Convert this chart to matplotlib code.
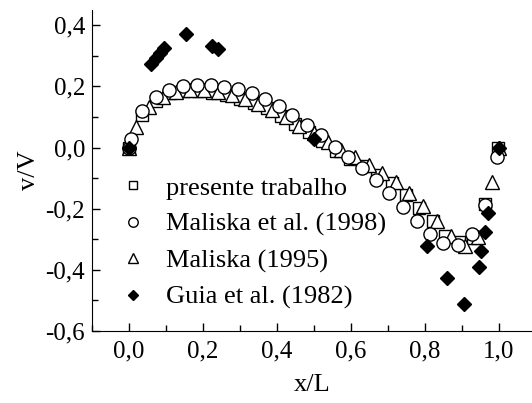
import matplotlib
matplotlib.use("Agg")
import matplotlib.pyplot as plt
from matplotlib.ticker import MultipleLocator, FuncFormatter

plt.rcParams['font.family'] = ['Liberation Serif', 'DejaVu Serif']
plt.rcParams['font.size'] = 19
plt.rcParams['axes.unicode_minus'] = False

# presente trabalho (squares)
sq_x = [0.0, 0.035, 0.073, 0.11, 0.148, 0.186, 0.224, 0.262, 0.3, 0.337, 0.374, 0.411,
        0.448, 0.486, 0.523, 0.56, 0.597, 0.634, 0.672, 0.712, 0.75, 0.785, 0.821, 0.855,
        0.893, 0.93, 0.962, 0.997]
sq_y = [0.0, 0.106, 0.152, 0.178, 0.185, 0.185, 0.18, 0.172, 0.16, 0.146, 0.128, 0.104,
        0.078, 0.05, 0.02, -0.01, -0.036, -0.062, -0.09, -0.117, -0.156, -0.198, -0.241, -0.29,
        -0.31, -0.296, -0.185, 0.0]

# Maliska et al. (1998) (circles)
ci_x = [0.0, 0.005, 0.035, 0.073, 0.108, 0.146, 0.184, 0.222, 0.258, 0.295, 0.332, 0.369,
        0.405, 0.442, 0.481, 0.52, 0.556, 0.591, 0.629, 0.667, 0.702, 0.74, 0.778, 0.813,
        0.848, 0.889, 0.927, 0.962, 0.995]
ci_y = [0.0, 0.028, 0.119, 0.165, 0.19, 0.2, 0.204, 0.206, 0.199, 0.192, 0.178, 0.16,
        0.135, 0.107, 0.074, 0.04, 0.001, -0.031, -0.068, -0.106, -0.148, -0.195, -0.241, -0.283,
        -0.313, -0.319, -0.283, -0.188, -0.031]

# Maliska (1995) (triangles)
tr_x = [0.0, 0.018, 0.054, 0.092, 0.128, 0.166, 0.203, 0.24, 0.278, 0.314, 0.35, 0.387,
        0.424, 0.461, 0.5, 0.537, 0.574, 0.61, 0.648, 0.685, 0.721, 0.757, 0.794, 0.832,
        0.872, 0.908, 0.943, 0.981, 1.0]
tr_y = [0.0, 0.066, 0.132, 0.165, 0.181, 0.19, 0.19, 0.181, 0.173, 0.158, 0.143, 0.122,
        0.099, 0.071, 0.047, 0.018, -0.008, -0.031, -0.058, -0.084, -0.113, -0.149, -0.19, -0.24,
        -0.29, -0.322, -0.293, -0.113, 0.0]

# Guia et al. (1982) (diamonds)
gu_x = [0.0, 0.06, 0.072, 0.084, 0.095, 0.154, 0.225, 0.24, 0.5, 0.805, 0.859, 0.905,
        0.946, 0.951, 0.962, 0.97, 1.0]
gu_y = [0.0, 0.275, 0.292, 0.31, 0.327, 0.371, 0.332, 0.322, 0.028, -0.322, -0.427, -0.512,
        -0.391, -0.338, -0.276, -0.214, 0.0]

fig = plt.figure(figsize=(5.32, 4.03), dpi=100)
ax = fig.add_axes([0.173, 0.179, 0.827, 0.796])

ms = 9.5
ax.plot(sq_x, sq_y, ls='none', marker='s', ms=ms - 1.5, mfc='white', mec='black', mew=1.0,
        label='presente trabalho')
ax.plot(tr_x, tr_y, ls='none', marker='^', ms=ms, mfc='white', mec='black', mew=1.0,
        label='Maliska (1995)')
ax.plot(ci_x, ci_y, ls='none', marker='o', ms=ms, mfc='white', mec='black', mew=1.0,
        label='Maliska et al. (1998)')
ax.plot(gu_x, gu_y, ls='none', marker='D', ms=ms - 2, mfc='black', mec='black', mew=1.0,
        label='Guia et al. (1982)')

handles, labels = ax.get_legend_handles_labels()
order = [0, 2, 1, 3]
ax.legend([handles[i] for i in order], [labels[i] for i in order],
          loc='upper left', bbox_to_anchor=(0.04, 0.515), frameon=False,
          markerscale=0.72, handlelength=1.0, handletextpad=0.75,
          labelspacing=0.48, borderaxespad=0)

ax.set_xlim(-0.1, 1.09)
ax.set_ylim(-0.6, 0.45)
ax.xaxis.set_major_locator(MultipleLocator(0.2))
ax.xaxis.set_minor_locator(MultipleLocator(0.1))
ax.yaxis.set_major_locator(MultipleLocator(0.2))
ax.yaxis.set_minor_locator(MultipleLocator(0.1))
fmt = FuncFormatter(lambda v, p: ('%.1f' % v).replace('.', ',').replace('-0,0', '0,0'))
ax.xaxis.set_major_formatter(fmt)
ax.yaxis.set_major_formatter(fmt)
ax.tick_params(which='both', direction='in', width=1.0, labelsize=18)
ax.tick_params(which='major', length=6, pad=7)
ax.tick_params(axis='y', which='major', pad=5)
ax.tick_params(which='minor', length=4)
ax.spines['top'].set_visible(False)
ax.spines['right'].set_visible(False)
ax.set_xlabel('x/L', labelpad=8)
ax.set_ylabel('v/V', labelpad=4)

fig.savefig('out.png', dpi=100)
